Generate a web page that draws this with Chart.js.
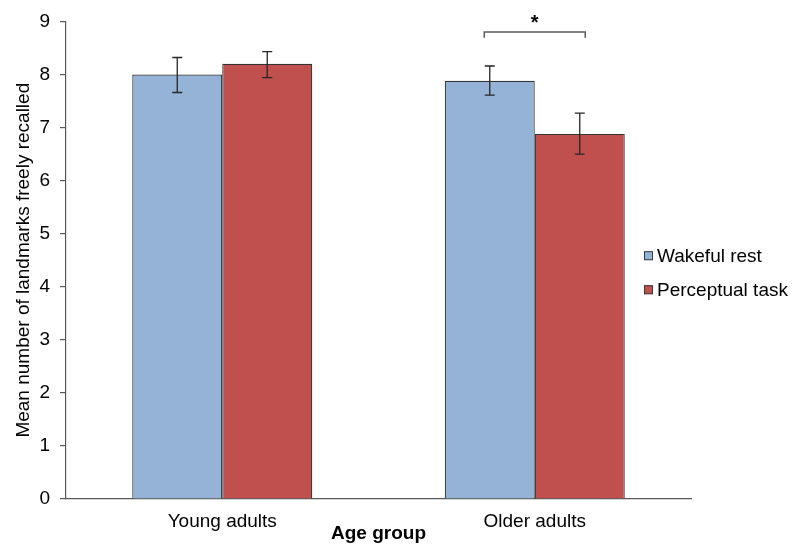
<!DOCTYPE html>
<html><head><meta charset="utf-8">
<script src="https://cdn.jsdelivr.net/npm/chart.js@4.4.1/dist/chart.umd.min.js"></script>
<style>html,body{margin:0;padding:0;background:#fff}</style>
</head><body>
<canvas id="c" width="800" height="559"></canvas>
<script>
const categories = ['Young adults', 'Older adults'];
const seriesNames = ['Wakeful rest', 'Perceptual task'];
const wakefulRest = [8.0, 7.88];
const perceptualTask = [8.2, 6.88];
const wakefulErrLow = [7.66, 7.61];
const wakefulErrHigh = [8.32, 8.16];
const perceptualErrLow = [7.94, 6.50];
const perceptualErrHigh = [8.43, 7.27];
const yTicks = [0, 1, 2, 3, 4, 5, 6, 7, 8, 9];
const yTitle = 'Mean number of landmarks freely recalled';
const xTitle = 'Age group';
const sigCategory = 1;
const sigLabel = '*';
const sigBracketTop = 8.80;
const sigBracketBottom = 8.69;

const FONT = '"Liberation Sans", Arial, sans-serif';
const errLow = [wakefulErrLow, perceptualErrLow];
const errHigh = [wakefulErrHigh, perceptualErrHigh];

const errorBars = {
  id: 'errorBars',
  afterDatasetsDraw(chart) {
    const ctx = chart.ctx, y = chart.scales.y;
    ctx.save();
    ctx.strokeStyle = '#262626';
    ctx.lineWidth = 1.3;
    chart.data.datasets.forEach((ds, i) => {
      chart.getDatasetMeta(i).data.forEach((bar, j) => {
        const yh = y.getPixelForValue(errHigh[i][j]);
        const yl = y.getPixelForValue(errLow[i][j]);
        const x = bar.x, cap = 5;
        ctx.beginPath();
        ctx.moveTo(x, yh); ctx.lineTo(x, yl);
        ctx.moveTo(x - cap, yh); ctx.lineTo(x + cap, yh);
        ctx.moveTo(x - cap, yl); ctx.lineTo(x + cap, yl);
        ctx.stroke();
      });
    });
    // significance bracket
    const b0 = chart.getDatasetMeta(0).data[sigCategory];
    const b1 = chart.getDatasetMeta(1).data[sigCategory];
    const xl = b0.x - 5.5, xr = b1.x + 5.5;
    const yt = y.getPixelForValue(sigBracketTop), yb = y.getPixelForValue(sigBracketBottom);
    ctx.strokeStyle = '#595959';
    ctx.lineWidth = 1.5;
    ctx.beginPath();
    ctx.moveTo(xl, yb); ctx.lineTo(xl, yt); ctx.lineTo(xr, yt); ctx.lineTo(xr, yb);
    ctx.stroke();
    ctx.fillStyle = '#000';
    ctx.font = 'bold 20px ' + FONT;
    ctx.textAlign = 'center';
    ctx.textBaseline = 'alphabetic';
    ctx.fillText(sigLabel, (xl + xr) / 2, yt - 3);
    ctx.restore();
  }
};

const customLegend = {
  id: 'customLegend',
  afterDraw(chart) {
    const ctx = chart.ctx;
    ctx.save();
    ctx.font = '19px ' + FONT;
    ctx.textBaseline = 'middle';
    ctx.textAlign = 'left';
    const x0 = chart.chartArea.right - 47;
    const yc = (chart.chartArea.top + chart.chartArea.bottom) / 2;
    const ys = [yc - 4.5, yc + 29.5];
    chart.data.datasets.forEach((ds, i) => {
      ctx.fillStyle = ds.backgroundColor;
      ctx.strokeStyle = '#3a3a3a';
      ctx.lineWidth = 1;
      ctx.fillRect(x0, ys[i] - 4.5, 9, 9);
      ctx.strokeRect(x0 + 0.5, ys[i] - 4, 8, 8);
      ctx.fillStyle = '#000';
      ctx.fillText(ds.label, x0 + 13, ys[i] + 1);
    });
    ctx.restore();
  }
};

new Chart(document.getElementById('c'), {
  type: 'bar',
  data: {
    labels: categories,
    datasets: [
      { label: seriesNames[0], data: wakefulRest, backgroundColor: '#95B3D7', borderColor: '#333333', borderWidth: 1.2 },
      { label: seriesNames[1], data: perceptualTask, backgroundColor: '#C0504D', borderColor: '#333333', borderWidth: 1.2 }
    ]
  },
  options: {
    responsive: false,
    animation: false,
    categoryPercentage: 0.576,
    barPercentage: 1.0,
    layout: { padding: { left: 0, right: 109, top: 21, bottom: 0 } },
    plugins: { legend: { display: false }, tooltip: { enabled: false } },
    scales: {
      x: {
        grid: { display: true, drawOnChartArea: false, drawTicks: false },
        border: { display: true, color: '#595959', width: 1.2 },
        ticks: { color: '#000', font: { family: FONT, size: 19 }, padding: 11, maxRotation: 0 },
        title: { display: true, text: xTitle, color: '#000', font: { family: FONT, size: 19, weight: 'bold' }, padding: { top: 0, bottom: 14 } },
        afterFit(s) { s.height = 60; }
      },
      y: {
        min: 0, max: 9,
        afterBuildTicks(s) { s.ticks = yTicks.map(v => ({ value: v })); },
        grid: { drawOnChartArea: false, drawTicks: true, tickLength: 6, color: '#595959', lineWidth: 1.2 },
        border: { display: true, color: '#595959', width: 1.2 },
        ticks: { color: '#000', font: { family: FONT, size: 19 }, padding: 10 },
        title: { display: true, text: yTitle, color: '#000', font: { family: FONT, size: 19 }, padding: { top: 12, bottom: 0 } },
        afterFit(s) { s.width = 66; }
      }
    }
  },
  plugins: [errorBars, customLegend]
});
</script>
</body></html>
